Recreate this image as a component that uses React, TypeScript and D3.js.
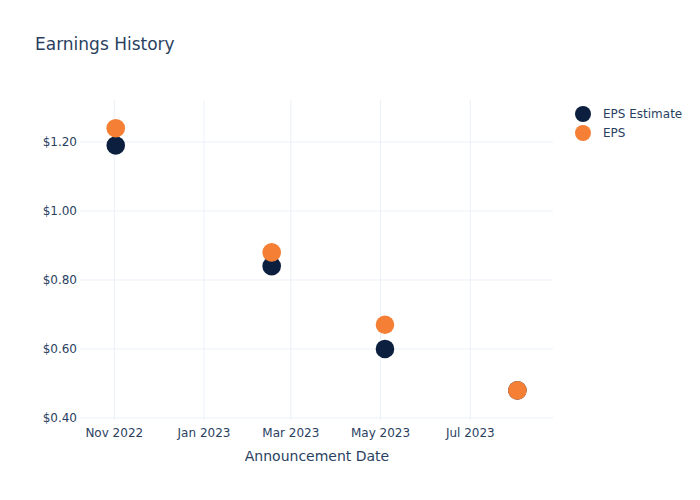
import React from "react";
import * as d3 from "d3";

const dates = ["2022-11-02", "2023-02-16", "2023-05-04", "2023-08-02"];
const epsEstimate = [1.19, 0.84, 0.6, 0.48];
const eps = [1.24, 0.88, 0.67, 0.48];
const xTicks = ["2022-11-01", "2023-01-01", "2023-03-01", "2023-05-01", "2023-07-01"];
const yTicks = [0.4, 0.6, 0.8, 1.0, 1.2];
const seriesNames = ["EPS Estimate", "EPS"];
const colors = ["#0c1f3f", "#f57f35"];

const W = 700, H = 500;
const M = { l: 80, r: 147, t: 100, b: 80 };
const FONT = "'DejaVu Sans', 'Open Sans', verdana, arial, sans-serif";
const TXT = "#2a3f5f";

export default function App() {
  const parse = d3.isoParse;
  const x = d3
    .scaleUtc()
    .domain([parse("2022-10-08T17:00:00Z")!, parse("2023-08-26T05:00:00Z")!])
    .range([M.l, W - M.r]);
  const y = d3.scaleLinear().domain([0.394, 1.3217]).range([H - M.b, M.t]);
  const fmtX = d3.utcFormat("%b %Y");
  const fmtY = (v: number) => "$" + v.toFixed(2);
  const series = [epsEstimate, eps];

  return (
    <svg
      width={W}
      height={H}
      style={{ position: "absolute", left: 0, top: 0, background: "#fff" }}
      fontFamily={FONT}
    >
      <rect x={0} y={0} width={W} height={H} fill="#fff" />
      {xTicks.map((t) => (
        <line
          key={"gx" + t}
          x1={x(parse(t)!)}
          x2={x(parse(t)!)}
          y1={M.t}
          y2={H - M.b}
          stroke="#ebf0f8"
          strokeWidth={1}
        />
      ))}
      {yTicks.map((t) => (
        <line
          key={"gy" + t}
          x1={M.l}
          x2={W - M.r}
          y1={y(t)}
          y2={y(t)}
          stroke="#ebf0f8"
          strokeWidth={1}
        />
      ))}
      {yTicks.map((t) => (
        <text
          key={"ty" + t}
          x={M.l - 3}
          y={y(t)}
          dy="0.35em"
          textAnchor="end"
          fontSize={12}
          fill={TXT}
        >
          {fmtY(t)}
        </text>
      ))}
      {xTicks.map((t) => (
        <text
          key={"tx" + t}
          x={x(parse(t)!)}
          y={H - M.b + 17}
          textAnchor="middle"
          fontSize={12}
          fill={TXT}
        >
          {fmtX(parse(t)!)}
        </text>
      ))}
      {series.map((s, si) =>
        s.map((v, i) => (
          <circle
            key={si + "-" + i}
            cx={x(parse(dates[i])!)}
            cy={y(v)}
            r={9.3}
            fill={colors[si]}
          />
        ))
      )}
      <text x={317} y={461} textAnchor="middle" fontSize={14} fill={TXT}>
        Announcement Date
      </text>
      <text x={35} y={50} fontSize={17} fill={TXT}>
        Earnings History
      </text>
      {seriesNames.map((n, i) => (
        <g key={n} transform={`translate(583, ${114 + i * 19})`}>
          <circle cx={0} cy={0} r={8} fill={colors[i]} />
          <text x={20} y={0} dy="0.35em" fontSize={12} fill={TXT}>
            {n}
          </text>
        </g>
      ))}
    </svg>
  );
}
